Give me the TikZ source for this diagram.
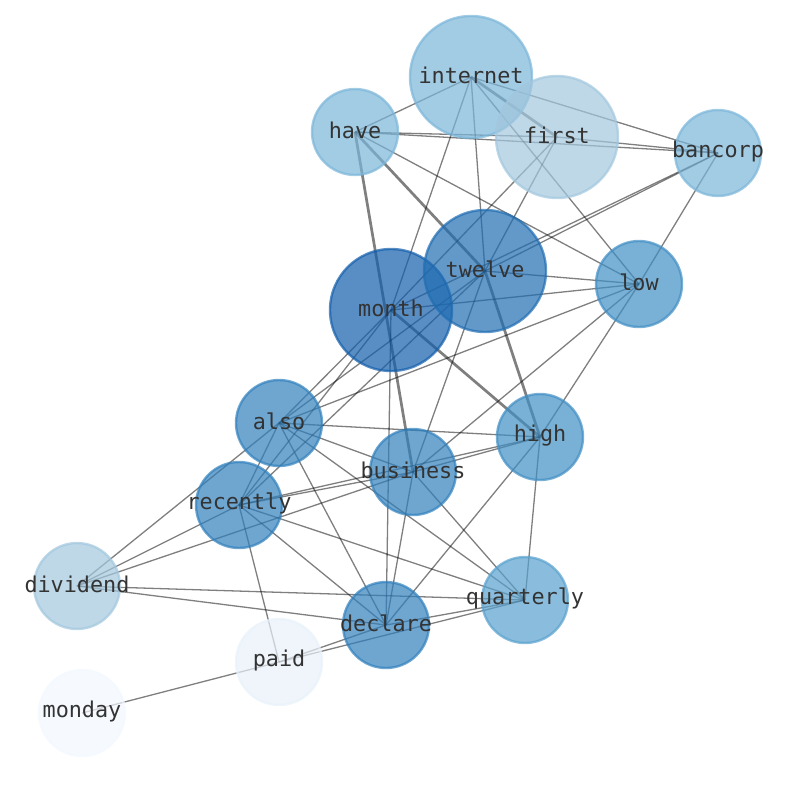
\documentclass[tikz,border=0pt]{standalone}
\usepackage{fontspec}
\newfontfamily\labelfont{DejaVu Sans Mono}
\usetikzlibrary{backgrounds}
\definecolor{tintA}{HTML}{135EAB}
\definecolor{tintB}{HTML}{206DB2}
\definecolor{tintC}{HTML}{3080BC}
\definecolor{tintD}{HTML}{408EC4}
\definecolor{tintE}{HTML}{59A1CE}
\definecolor{tintF}{HTML}{7AB5D9}
\definecolor{tintG}{HTML}{A2C7DE}
\definecolor{tintH}{HTML}{E8F1FA}
\definecolor{tintI}{HTML}{F2F8FF}
\definecolor{labelgray}{HTML}{333333}
\begin{document}
\begin{tikzpicture}
[x=1pt,y=-1pt,
  nodedecorate/.style={shape=circle,inner sep=0pt,line width=2.4pt,%
    fill opacity=0.7,draw opacity=0.7},%
  labeldecorate/.style={inner sep=0pt,yshift=1.5pt,text=labelgray,%
    font=\labelfont\fontsize{21.8}{24}\selectfont},%
  linedecorate/.style={-,line width=1.3pt,draw=black,draw opacity=0.5},%
  heavydecorate/.style={-,line width=2.7pt,draw=black,draw opacity=0.5}]
\useasboundingbox (0,0) rectangle (794,790);
%% nodes or vertices
\foreach \nodename/\x/\y/\size/\tint in {
  month/391/310/122/tintA, twelve/485/271/122/tintB,
  internet/471/77/122/tintF, first/557/137/122/tintG,
  have/355/132/86/tintF, bancorp/718/153/86/tintF,
  low/639/284/86/tintD, high/540/437/86/tintD,
  also/279/423/86/tintC, business/413/472/86/tintC,
  recently/239/505/86/tintC, declare/386/625/86/tintC,
  quarterly/525/600/86/tintE, dividend/77/586/86/tintG,
  paid/279/662/86/tintH, monday/82/713/86/tintI}
{
  \node (\nodename) at (\x,\y) [nodedecorate,minimum size=\size pt,draw=\tint,fill=\tint] {};
}
\foreach \nodename in {month, twelve, internet, first, have, bancorp, low, high,
  also, business, recently, declare, quarterly, dividend, paid, monday}
{
  \node (lbl-\nodename) at (\nodename) [labeldecorate] {\nodename};
}
%% edges or lines
\begin{scope}[on background layer]
\path
\foreach \startnode/\endnode in {internet/have, internet/bancorp, internet/low,
  internet/month, internet/twelve, have/first, have/bancorp, have/low,
  first/bancorp, first/month, first/twelve, bancorp/twelve, bancorp/month,
  bancorp/low, twelve/low, twelve/also, twelve/recently, twelve/business,
  month/low, month/declare, month/also, month/recently, low/also, low/business,
  low/high, also/high, also/business, also/recently, also/declare,
  also/quarterly, also/dividend, recently/business, recently/high,
  recently/declare, recently/quarterly, recently/paid, recently/dividend,
  business/high, business/declare, business/quarterly, business/dividend,
  high/declare, high/quarterly, dividend/quarterly, dividend/declare,
  declare/quarterly, declare/paid, paid/quarterly, paid/monday} {
  (\startnode.center) edge[linedecorate] (\endnode.center)
};
\path
\foreach \startnode/\endnode in {internet/first, have/twelve, have/business,
  month/high, twelve/high} {
  (\startnode.center) edge[heavydecorate] (\endnode.center)
};
\end{scope}
\end{tikzpicture}
\end{document}
